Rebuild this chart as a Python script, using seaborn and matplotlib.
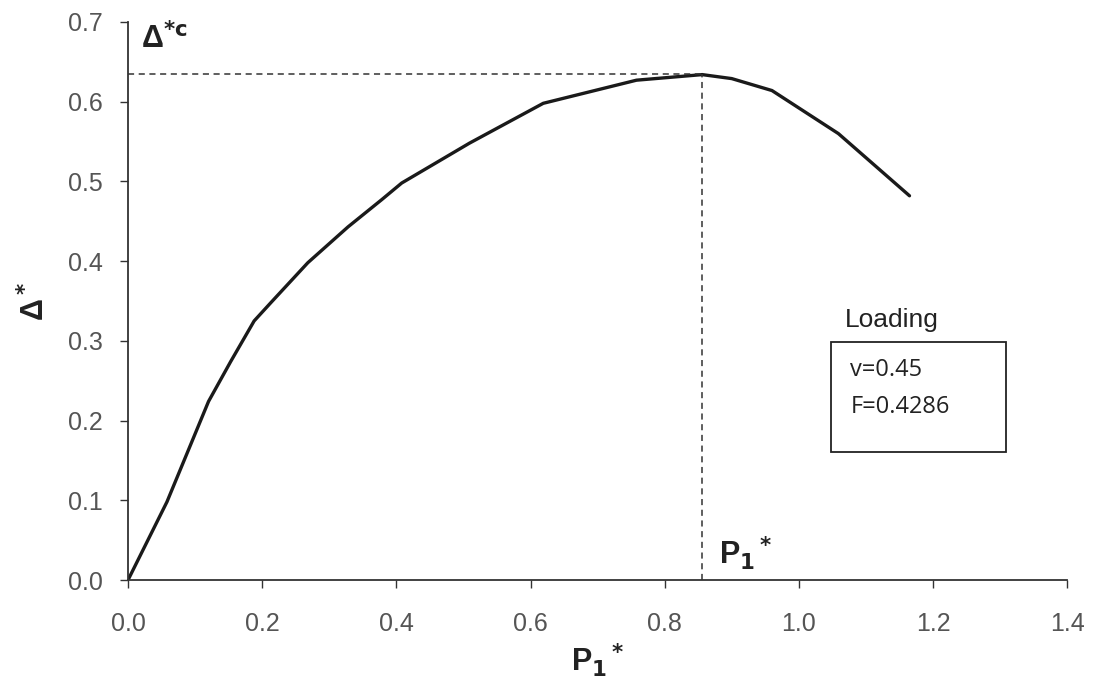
import matplotlib
matplotlib.use("Agg")
import matplotlib.pyplot as plt
import seaborn as sns
import pandas as pd
from matplotlib.patches import Rectangle

# Data
p1 = [0.0, 0.058, 0.12, 0.153, 0.188, 0.213, 0.268, 0.328, 0.378, 0.408, 0.509,
      0.619, 0.758, 0.856, 0.9, 0.96, 1.059, 1.165]
delta = [0.0, 0.098, 0.224, 0.274, 0.325, 0.348, 0.398, 0.443, 0.477, 0.498, 0.548,
         0.598, 0.627, 0.634, 0.629, 0.614, 0.56, 0.482]
peak_x = 0.856
peak_y = 0.635
x_ticks = [0.0, 0.2, 0.4, 0.6, 0.8, 1.0, 1.2, 1.4]
y_ticks = [0.0, 0.1, 0.2, 0.3, 0.4, 0.5, 0.6, 0.7]

sns.set_theme(style="ticks")
plt.rcParams['font.family'] = ['Liberation Sans', 'DejaVu Sans']
plt.rcParams['mathtext.default'] = 'bf'

df = pd.DataFrame({"P1": p1, "Delta": delta})

fig = plt.figure(figsize=(10.99, 6.81), dpi=100)
ax = fig.add_axes([0.1165, 0.1483, 0.8545, 0.8194])

sns.lineplot(data=df, x="P1", y="Delta", ax=ax, color="#1a1a1a", linewidth=2.4, sort=False)

ax.plot([0, peak_x], [peak_y, peak_y], color="#333333", linestyle=(0, (4, 3)), linewidth=1.1)
ax.plot([peak_x, peak_x], [0, peak_y], color="#333333", linestyle=(0, (4, 3)), linewidth=1.1)

ax.set_xlim(0, 1.4)
ax.set_ylim(0, 0.7)
ax.set_xticks(x_ticks)
ax.set_yticks(y_ticks)
ax.set_xticklabels([f"{v:.1f}" for v in x_ticks])
ax.set_yticklabels([f"{v:.1f}" for v in y_ticks])
ax.tick_params(axis='both', direction='out', length=6, width=1, colors="#333333",
               labelsize=18, labelcolor="#555555", pad=12)
ax.tick_params(axis='x', pad=17)
for s in ['top', 'right']:
    ax.spines[s].set_visible(False)
for s in ['left', 'bottom']:
    ax.spines[s].set_color("#333333")
    ax.spines[s].set_linewidth(1.3)

ax.set_xlabel(r"P$_1$$^*$", fontsize=22, fontweight='bold', color="#222222", labelpad=4)
ax.set_ylabel(r"Δ$^*$", fontsize=22, fontweight='bold', color="#222222", labelpad=12)

ax.text(0.02, 0.667, r"Δ$^{*c}$", fontsize=22, fontweight='bold', color="#222222")
ax.text(0.881, 0.02, r"P$_1$$^*$", fontsize=22, fontweight='bold', color="#222222")
ax.text(1.069, 0.317, "Loading", fontsize=19, color="#222222")

ax.add_patch(Rectangle((1.048, 0.161), 0.261, 0.1375, fill=False, edgecolor="#222222", linewidth=1.3))
ax.text(1.077, 0.264, "v=0.45", fontsize=17, color="#222222", va='center',
        family=['Open Sans', 'DejaVu Sans'])
ax.text(1.077, 0.2166, "F=0.4286", fontsize=17, color="#222222", va='center',
        family=['Open Sans', 'DejaVu Sans'])

fig.savefig("out.png", dpi=100, facecolor="white")
